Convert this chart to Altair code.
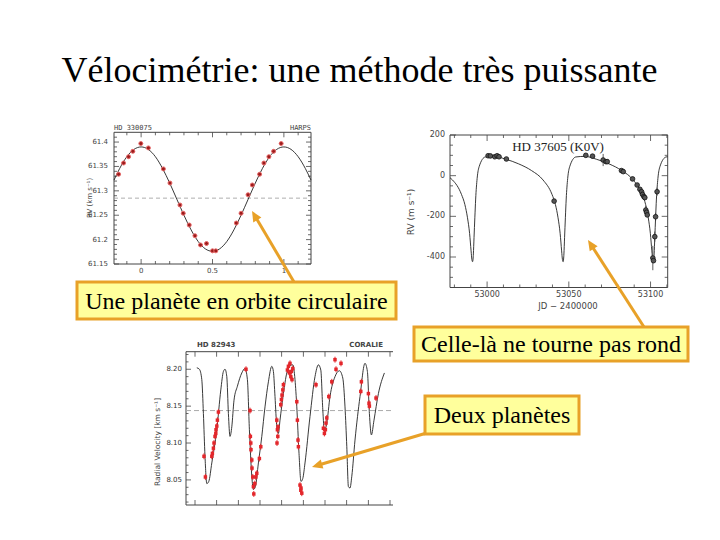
import altair as alt
import pandas as pd

OX, OY = 8, 8  # page margin

TITLE = "Vélocimétrie: une méthode très puissante"
BOX_TEXTS = ["Une planète en orbite circulaire", "Celle-là ne tourne pas rond", "Deux planètes"]

# ---------------- panel 1 : HD 330075 (HARPS) ----------------
P1_CURVE_PHASE = [-0.19, -0.15, -0.10, -0.05, 0.0, 0.05, 0.10, 0.15, 0.20, 0.25, 0.30, 0.35, 0.40,
                  0.45, 0.50, 0.55, 0.60, 0.65, 0.70, 0.75, 0.80, 0.85, 0.90, 0.95, 1.00, 1.05,
                  1.10, 1.15, 1.19]
P1_CURVE_RV = [61.322, 61.346, 61.370, 61.385, 61.390, 61.385, 61.370, 61.346, 61.316, 61.283,
               61.250, 61.220, 61.196, 61.181, 61.176, 61.181, 61.196, 61.220, 61.250, 61.283,
               61.316, 61.346, 61.370, 61.385, 61.390, 61.385, 61.370, 61.346, 61.322]
P1_PHASE = [-0.158, -0.123, -0.088, -0.058, -0.002, 0.051, 0.156, 0.202, 0.272, 0.295, 0.337,
            0.377, 0.416, 0.458, 0.500, 0.523, 0.667, 0.700, 0.749, 0.779, 0.830, 0.860, 0.895,
            0.928, 0.981]
P1_RV = [61.334, 61.357, 61.370, 61.381, 61.397, 61.388, 61.345, 61.316, 61.271, 61.254, 61.230,
         61.208, 61.189, 61.192, 61.177, 61.177, 61.234, 61.254, 61.292, 61.312, 61.334, 61.357,
         61.370, 61.381, 61.397]
P1_MEAN = 61.285
P1_X_MAJOR = [0, 0.5, 1]
P1_X_LABELS = ["0", "0.5", "1"]
P1_X_MINOR = [-0.1, 0.1, 0.2, 0.3, 0.4, 0.6, 0.7, 0.8, 0.9, 1.1]
P1_Y_MAJOR = [61.15, 61.2, 61.25, 61.3, 61.35, 61.4]
P1_Y_LABELS = ["61.15", "61.2", "61.25", "61.3", "61.35", "61.4"]
P1_Y_MINOR = [61.16, 61.17, 61.18, 61.19, 61.21, 61.22, 61.23, 61.24, 61.26, 61.27, 61.28, 61.29,
              61.31, 61.32, 61.33, 61.34, 61.36, 61.37, 61.38, 61.39, 61.41]

# ---------------- panel 2 : HD 37605 ----------------
P2_CURVE_JD = [52977.3, 52978.8, 52984.3, 52986.4, 52988.0, 52989.3, 52990.2, 52990.7, 52991.1,
               52991.4, 52991.6, 52992.0, 52992.5, 52993.0, 52993.9, 52995.2, 52998.9, 53004.4,
               53011.4, 53019.3,
               53027.2, 53034.2, 53039.7, 53041.8, 53043.4, 53044.7, 53045.6, 53046.1, 53046.5,
               53046.8, 53047.0, 53047.4, 53047.9, 53048.4, 53049.3, 53050.6, 53054.3, 53059.8,
               53066.8, 53074.6,
               53082.4, 53089.4, 53094.9, 53097.0, 53098.6, 53099.9, 53100.8, 53101.3, 53101.7,
               53102.0, 53102.2, 53102.6, 53103.1, 53103.6, 53104.5, 53105.8, 53109.5, 53110.5]
P2_CURVE_RV = [-10, -21, -92, -142, -207, -285, -370, -413, -423, -410, -385, -305, -207, -115,
               -14, 46, 92, 95, 81, 58,
               25, -21, -92, -142, -207, -285, -370, -413, -423, -410, -385, -305, -207, -115,
               -14, 46, 92, 95, 81, 58,
               25, -21, -92, -142, -207, -285, -370, -413, -423, -410, -385, -305, -207, -115,
               -14, 46, 92, 93]
P2_JD = [53000.6, 53002.0, 53004.7, 53006.1, 53007.3, 53011.8, 53041.0, 53060.4, 53064.5, 53071.0,
         53072.7, 53073.5, 53082.2, 53083.3, 53089.0, 53091.8, 53093.5, 53094.5, 53095.1, 53095.9,
         53096.5, 53097.1, 53097.6, 53098.0, 53101.4, 53101.8, 53102.6, 53103.1, 53104.0]
P2_RV = [98, 97, 93, 98, 93, 82, -125, 100, 96, 77, 69, 69, 25, 20, -16, -46, -67, -79, -92, -103,
         -108, -169, -180, -193, -405, -418, -300, -202, -79]
P2_ERR = [5, 5, 5, 5, 5, 5, 5, 5, 5, 30, 5, 5, 5, 5, 5, 5, 5, 5, 5, 5,
          5, 20, 10, 10, 60, 10, 25, 20, 20]
P2_X_MAJOR = [53000, 53050, 53100]
P2_X_LABELS = ["53000", "53050", "53100"]
P2_X_MINOR = [52980, 52990, 53010, 53020, 53030, 53040, 53060, 53070, 53080, 53090, 53110]
P2_Y_MAJOR = [-400, -200, 0, 200]
P2_Y_LABELS = ["-400", "-200", "0", "200"]
P2_Y_MINOR = [-500, -450, -350, -300, -250, -150, -100, -50, 50, 100, 150]

# ---------------- panel 3 : HD 82943 (CORALIE) ----------------
P3_CURVE_JD = [51054, 51067, 51079, 51087, 51095, 51104, 51114, 51129, 51154, 51174,
               51187, 51195, 51204, 51212, 51220, 51229, 51240, 51257, 51279, 51295,
               51307, 51317, 51329, 51337, 51347, 51362, 51379, 51395, 51412, 51429,
               51437, 51445, 51454, 51462, 51470, 51487, 51504, 51520, 51534, 51545,
               51554, 51565, 51575, 51584, 51595, 51620, 51645, 51662, 51674, 51684,
               51692, 51704, 51720, 51745, 51767, 51784, 51795, 51804, 51812, 51820,
               51829, 51845, 51870, 51895, 51907, 51917, 51927, 51940, 51962, 51992]
P3_CURVE_V = [8.202, 8.200, 8.186, 8.140, 8.082, 8.045, 8.048, 8.073, 8.118, 8.172,
              8.197, 8.200, 8.190, 8.140, 8.109, 8.122, 8.158, 8.177, 8.195, 8.201,
              8.186, 8.118, 8.055, 8.037, 8.041, 8.073, 8.109, 8.149, 8.183, 8.204,
              8.197, 8.163, 8.122, 8.113, 8.131, 8.167, 8.195, 8.205, 8.206, 8.186,
              8.149, 8.086, 8.048, 8.052, 8.073, 8.136, 8.190, 8.206, 8.199, 8.145,
              8.116, 8.127, 8.163, 8.190, 8.198, 8.188, 8.149, 8.095, 8.041, 8.039,
              8.055, 8.104, 8.163, 8.208, 8.197, 8.140, 8.111, 8.131, 8.167, 8.195]
P3_JD = [51090, 51097, 51129, 51132, 51137, 51140, 51145, 51149, 51150, 51154,
         51157, 51162, 51300, 51320, 51322, 51324, 51325, 51329, 51330, 51334,
         51337, 51339, 51344, 51349, 51354, 51367, 51374, 51455, 51454, 51457,
         51459, 51460, 51474, 51477, 51480, 51484, 51487, 51507, 51512, 51517,
         51520, 51524, 51527, 51530, 51534, 51554, 51557, 51560, 51562, 51570,
         51574, 51575, 51579, 51650, 51687, 51692, 51697, 51700, 51704, 51714,
         51729, 51745, 51750, 51775, 51874, 51877, 51912, 51915, 51917, 51950]
P3_V = [8.082, 8.054, 8.082, 8.086, 8.093, 8.100, 8.109, 8.113, 8.118, 8.123,
        8.131, 8.142, 8.200, 8.144, 8.109, 8.100, 8.091, 8.077, 8.066, 8.054,
        8.041, 8.031, 8.045, 8.054, 8.059, 8.079, 8.095, 8.100, 8.131, 8.118,
        8.109, 8.122, 8.152, 8.159, 8.165, 8.172, 8.179, 8.199, 8.204, 8.195,
        8.208, 8.190, 8.197, 8.186, 8.201, 8.156, 8.131, 8.104, 8.095, 8.043,
        8.036, 8.039, 8.032, 8.179, 8.120, 8.113, 8.118, 8.127, 8.134, 8.163,
        8.183, 8.213, 8.200, 8.208, 8.170, 8.183, 8.167, 8.154, 8.150, 8.161]
P3_ERR = 0.004
P3_MEAN = 8.144
P3_X_TICKS = [51045, 51153, 51262, 51370, 51478, 51587, 51695, 51803, 51912, 52020]
P3_Y_MAJOR = [8.05, 8.10, 8.15, 8.20]
P3_Y_LABELS = ["8.05", "8.10", "8.15", "8.20"]
P3_Y_MINOR = [8.02, 8.03, 8.04, 8.06, 8.07, 8.08, 8.09, 8.11, 8.12, 8.13, 8.14, 8.16, 8.17,
              8.18, 8.19, 8.21, 8.22]

ONE = pd.DataFrame({"k": [0]})
SERIF = "Liberation Serif"
SANS = "DejaVu Sans"
ORANGE = "#E8A128"
AX = "#444444"


def vx(px):
    return alt.value(px - OX)


def vy(py):
    return alt.value(py - OY)


def sc(domain, a, b, off):
    return alt.Scale(domain=domain, range=[a - off, b - off], nice=False, zero=False)


def hline(x0, x1, y, color=AX, w=1):
    return alt.Chart(ONE).mark_rule(color=color, strokeWidth=w).encode(
        x=vx(x0), x2=vx(x1), y=vy(y), y2=vy(y))


def vline(x, y0, y1, color=AX, w=1):
    return alt.Chart(ONE).mark_rule(color=color, strokeWidth=w).encode(
        x=vx(x), x2=vx(x), y=vy(y0), y2=vy(y1))


def xticks(vals, xs, y0, y1, color=AX):
    return alt.Chart(pd.DataFrame({"v": vals})).mark_rule(color=color, strokeWidth=0.8).encode(
        x=alt.X("v:Q", scale=xs, axis=None), y=vy(y0), y2=vy(y1))


def yticks(vals, ys, x0, x1, color=AX):
    return alt.Chart(pd.DataFrame({"v": vals})).mark_rule(color=color, strokeWidth=0.8).encode(
        y=alt.Y("v:Q", scale=ys, axis=None), x=vx(x0), x2=vx(x1))


def xlabels(vals, labels, xs, y, size=7, font=SANS, color=AX):
    return alt.Chart(pd.DataFrame({"v": vals, "t": labels})).mark_text(
        fontSize=size, font=font, color=color, baseline="middle", align="center").encode(
        x=alt.X("v:Q", scale=xs, axis=None), y=vy(y), text="t:N")


def ylabels(vals, labels, ys, x, size=7, font=SANS, color=AX):
    return alt.Chart(pd.DataFrame({"v": vals, "t": labels})).mark_text(
        fontSize=size, font=font, color=color, baseline="middle", align="right").encode(
        y=alt.Y("v:Q", scale=ys, axis=None), x=vx(x), text="t:N")


def label(txt, x, y, size, font=SANS, color=AX, align="center", angle=0, weight="normal",
          baseline="middle"):
    kw = dict(text=txt, fontSize=size, font=font, color=color, align=align, baseline=baseline,
              fontWeight=weight)
    if angle:
        kw["angle"] = angle
    return alt.Chart(ONE).mark_text(**kw).encode(x=vx(x), y=vy(y))


layers = []

# ---------- panel 1 ----------
P1 = dict(x0=114, x1=311, yb=264, yt=132.3)
xs1 = sc([-0.19, 1.19], P1["x0"], P1["x1"], OX)
ys1 = sc([61.15, 61.42], P1["yb"], P1["yt"], OY)
layers += [
    hline(P1["x0"], P1["x1"], P1["yt"]), hline(P1["x0"], P1["x1"], P1["yb"]),
    vline(P1["x0"], P1["yt"], P1["yb"]), vline(P1["x1"], P1["yt"], P1["yb"]),
    xticks(P1_X_MAJOR, xs1, P1["yb"], P1["yb"] - 5), xticks(P1_X_MINOR, xs1, P1["yb"], P1["yb"] - 3),
    xticks(P1_X_MAJOR, xs1, P1["yt"], P1["yt"] + 5), xticks(P1_X_MINOR, xs1, P1["yt"], P1["yt"] + 3),
    yticks(P1_Y_MAJOR, ys1, P1["x0"], P1["x0"] + 5), yticks(P1_Y_MINOR, ys1, P1["x0"], P1["x0"] + 3),
    yticks(P1_Y_MAJOR, ys1, P1["x1"], P1["x1"] - 5), yticks(P1_Y_MINOR, ys1, P1["x1"], P1["x1"] - 3),
    alt.Chart(pd.DataFrame({"m": [P1_MEAN]})).mark_rule(color="#999999", strokeDash=[4, 3], strokeWidth=0.8).encode(
        y=alt.Y("m:Q", scale=ys1, axis=None), x=vx(P1["x0"]), x2=vx(P1["x1"])),
    alt.Chart(pd.DataFrame({"p": P1_CURVE_PHASE, "rv": P1_CURVE_RV})).mark_line(
        color="#222222", strokeWidth=0.9, interpolate="monotone").encode(
        x=alt.X("p:Q", scale=xs1, axis=None), y=alt.Y("rv:Q", scale=ys1, axis=None)),
    alt.Chart(pd.DataFrame({"p": P1_PHASE, "rv": P1_RV})).mark_point(
        shape="circle", filled=True, fill="#9c1c1c", stroke="#e86a6a", strokeWidth=1, size=16, opacity=1).encode(
        x=alt.X("p:Q", scale=xs1, axis=None), y=alt.Y("rv:Q", scale=ys1, axis=None)),
    ylabels(P1_Y_MAJOR, P1_Y_LABELS, ys1, 108),
    xlabels(P1_X_MAJOR, P1_X_LABELS, xs1, 271),
    label("RV (km s⁻¹)", 90, 198, 7, angle=270),
    label("HD 330075", 114, 128, 7, align="left", font="DejaVu Sans Mono"),
    label("HARPS", 311, 128, 7, align="right", font="DejaVu Sans Mono"),
]

# ---------- panel 2 ----------
P2 = dict(x0=450, x1=667.7, yb=287.5, yt=135)
xs2 = sc([52977.3, 53110.5], P2["x0"], P2["x1"], OX)
ys2 = sc([-550, 200], P2["yb"], P2["yt"], OY)
df2 = pd.DataFrame({"jd": P2_JD, "rv": P2_RV, "e": P2_ERR})
layers += [
    hline(P2["x0"], P2["x1"], P2["yt"]), hline(P2["x0"], P2["x1"], P2["yb"]),
    vline(P2["x0"], P2["yt"], P2["yb"]), vline(P2["x1"], P2["yt"], P2["yb"]),
    xticks(P2_X_MAJOR, xs2, P2["yb"], P2["yb"] - 6), xticks(P2_X_MINOR, xs2, P2["yb"], P2["yb"] - 3),
    xticks(P2_X_MAJOR, xs2, P2["yt"], P2["yt"] + 6), xticks(P2_X_MINOR, xs2, P2["yt"], P2["yt"] + 3),
    yticks(P2_Y_MAJOR, ys2, P2["x0"], P2["x0"] + 6), yticks(P2_Y_MINOR, ys2, P2["x0"], P2["x0"] + 3),
    yticks(P2_Y_MAJOR, ys2, P2["x1"], P2["x1"] - 6), yticks(P2_Y_MINOR, ys2, P2["x1"], P2["x1"] - 3),
    alt.Chart(pd.DataFrame({"jd": P2_CURVE_JD, "rv": P2_CURVE_RV})).mark_line(
        color="#222222", strokeWidth=0.9, interpolate="monotone").encode(
        x=alt.X("jd:Q", scale=xs2, axis=None), y=alt.Y("rv:Q", scale=ys2, axis=None)),
    alt.Chart(df2).transform_calculate(lo="datum.rv - datum.e", hi="datum.rv + datum.e").mark_rule(
        color="#333333", strokeWidth=0.8).encode(
        x=alt.X("jd:Q", scale=xs2, axis=None), y=alt.Y("lo:Q", scale=ys2, axis=None), y2="hi:Q"),
    alt.Chart(df2).mark_point(shape="circle", filled=True, fill="#555555", stroke="#111111",
                              strokeWidth=0.8, size=22, opacity=1).encode(
        x=alt.X("jd:Q", scale=xs2, axis=None), y=alt.Y("rv:Q", scale=ys2, axis=None)),
    ylabels(P2_Y_MAJOR, P2_Y_LABELS, ys2, 445, size=8),
    xlabels(P2_X_MAJOR, P2_X_LABELS, xs2, 295, size=8),
    label("JD − 2400000", 568, 306, 8.5),
    label("RV (m s⁻¹)", 411, 212, 9, angle=270),
    label("HD 37605 (K0V)", 558, 147, 13, font=SERIF, color="#222222"),
]

# ---------- panel 3 ----------
P3 = dict(x0=186, x1=393, yb=505, yt=351.7)
xs3 = sc([51000, 52035], P3["x0"], P3["x1"], OX)
ys3 = sc([8.016, 8.2238], P3["yb"], P3["yt"], OY)
df3 = pd.DataFrame({"jd": P3_JD, "v": P3_V})
layers += [
    hline(P3["x0"], P3["x1"], P3["yt"]), hline(P3["x0"], P3["x1"], P3["yb"]),
    vline(P3["x0"], P3["yt"], P3["yb"]),
    xticks(P3_X_TICKS, xs3, P3["yb"], P3["yb"] - 5), xticks(P3_X_TICKS, xs3, P3["yt"], P3["yt"] + 5),
    yticks(P3_Y_MAJOR, ys3, P3["x0"], P3["x0"] + 5), yticks(P3_Y_MINOR, ys3, P3["x0"], P3["x0"] + 2.5),
    alt.Chart(pd.DataFrame({"m": [P3_MEAN]})).mark_rule(color="#aaaaaa", strokeDash=[5, 3], strokeWidth=1).encode(
        y=alt.Y("m:Q", scale=ys3, axis=None), x=vx(P3["x0"]), x2=vx(P3["x1"])),
    alt.Chart(pd.DataFrame({"jd": P3_CURVE_JD, "v": P3_CURVE_V})).mark_line(
        color="#222222", strokeWidth=0.9, interpolate="monotone").encode(
        x=alt.X("jd:Q", scale=xs3, axis=None), y=alt.Y("v:Q", scale=ys3, axis=None)),
    alt.Chart(df3).transform_calculate(lo=f"datum.v - {P3_ERR}", hi=f"datum.v + {P3_ERR}").mark_rule(
        color="#e3262b", strokeWidth=1).encode(
        x=alt.X("jd:Q", scale=xs3, axis=None), y=alt.Y("lo:Q", scale=ys3, axis=None), y2="hi:Q"),
    alt.Chart(df3).mark_point(shape="square", filled=True, color="#e3262b", size=12, opacity=1).encode(
        x=alt.X("jd:Q", scale=xs3, axis=None), y=alt.Y("v:Q", scale=ys3, axis=None)),
    ylabels(P3_Y_MAJOR, P3_Y_LABELS, ys3, 182, size=7, color="#333333"),
    label("Radial Velocity [km s⁻¹]", 158, 442, 7.5, angle=270),
    label("HD 82943", 197, 345, 7, align="left", weight="bold"),
    label("CORALIE", 383, 345, 7, align="right", weight="bold"),
]

# ---------- title ----------
layers.append(label(TITLE, 359.5, 82, 36, font=SERIF, color="#000000", baseline="alphabetic"))

# ---------- arrows ----------
ARROW_HEAD = "M0,0 L-0.45,1 L0.45,1 Z"
arrows = [
    # tail (x, y), line end (x, y), tip (x, y), angle
    ((294, 282), (255.1, 216.2), (252, 211), 329.4),
    ((644, 327), (591.2, 245.0), (588, 240), 327.2),
    ((430, 432), (317.8, 465.3), (312, 467), 253.5),
]
for (tx, ty), (ex, ey), (px, py), ang in arrows:
    layers.append(alt.Chart(ONE).mark_rule(color=ORANGE, strokeWidth=3).encode(
        x=vx(tx), y=vy(ty), x2=vx(ex), y2=vy(ey)))
    layers.append(alt.Chart(ONE).mark_point(shape=ARROW_HEAD, filled=True, color=ORANGE,
                                            size=440, angle=ang, opacity=1).encode(
        x=vx(px), y=vy(py)))

# ---------- text boxes ----------
boxes = [
    ((77, 282), (396, 319), 236.5, 308.5),
    ((414, 327), (688, 361), 551, 352),
    ((425, 396), (579, 434), 502, 423),
]
for i, ((bx0, by0), (bx1, by1), cx, base) in enumerate(boxes):
    layers.append(alt.Chart(ONE).mark_rect(fill="#FFFF9C", stroke=ORANGE, strokeWidth=3).encode(
        x=vx(bx0), x2=vx(bx1), y=vy(by0), y2=vy(by1)))
    layers.append(label(BOX_TEXTS[i], cx, base, 24, font=SERIF, color="#000000", baseline="alphabetic"))

chart = alt.layer(*layers).resolve_scale(x="independent", y="independent").properties(
    width=704, height=524, padding=0, autosize="none", background="white"
).configure_view(stroke=None)

chart.save("out.html", embed_options={"renderer": "svg", "actions": False})
